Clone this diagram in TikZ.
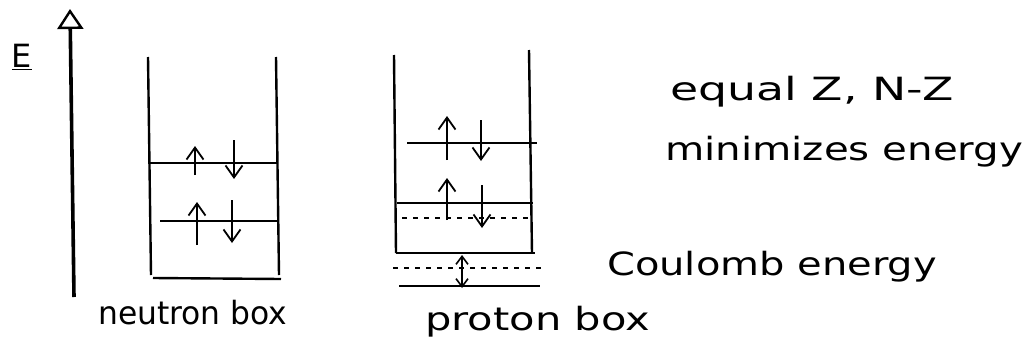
\documentclass[tikz,border=0pt]{standalone}
\usepackage{fontspec}
\setmainfont{DejaVu Sans}
\usetikzlibrary{arrows.meta}
\newcommand{\handtext}[2]{\scalebox{#1}[1]{#2}}
\begin{document}
\begin{tikzpicture}[x=1pt,y=-1pt,
  wall/.style={line width=2.4pt},
  level/.style={line width=1.6pt},
  spin/.style={line width=1.8pt,-{Straight Barb[length=12pt,width=17pt,line width=1.8pt]}},
  dashlevel/.style={line width=1.2pt,dash pattern=on 5pt off 6pt},
  hand/.style={font=\fontsize{32}{34}\selectfont,inner sep=0pt,anchor=base west}]
\useasboundingbox (0,0) rectangle (1026,351);
% energy axis
\coordinate (axb) at (74,297);
\coordinate (axt) at (70,9);
\draw[line width=3.6pt,-{Triangle[open,length=20pt,width=26pt,line width=2.4pt]}] (axb) -- (axt);
\node[font=\fontsize{32}{34}\selectfont,inner sep=0pt] (E) at (22,57) {\underline{E}};
% neutron box
\coordinate (nTL) at (148,57); \coordinate (nBL) at (151,275);
\coordinate (nTR) at (276,57); \coordinate (nBR) at (279,275);
\coordinate (nB1) at (153,278); \coordinate (nB2) at (281,279);
\draw[wall] (nTL) -- (nBL);
\draw[wall] (nTR) -- (nBR);
\draw[wall] (nB1) -- (nB2);
\coordinate (nL1a) at (148,163); \coordinate (nL1b) at (278,163);
\coordinate (nL2a) at (160,221); \coordinate (nL2b) at (279,221);
\draw[level] (nL1a) -- (nL1b);
\draw[level] (nL2a) -- (nL2b);
\coordinate (n1u0) at (195,175); \coordinate (n1u1) at (195,146);
\coordinate (n1d0) at (234,140); \coordinate (n1d1) at (234,179);
\coordinate (n2u0) at (197,245); \coordinate (n2u1) at (197,202);
\coordinate (n2d0) at (232,200); \coordinate (n2d1) at (232,243);
\draw[spin] (n1u0) -- (n1u1);
\draw[spin] (n1d0) -- (n1d1);
\draw[spin] (n2u0) -- (n2u1);
\draw[spin] (n2d0) -- (n2d1);
\node[hand] (nlab) at (98,324) {\handtext{0.98}{neutron box}};
% proton box
\coordinate (pTL) at (394,55); \coordinate (pBL) at (396,253);
\coordinate (pTR) at (529,50); \coordinate (pBR) at (532,253);
\coordinate (pB1) at (396,253); \coordinate (pB2) at (535,253);
\draw[wall] (pTL) -- (pBL);
\draw[wall] (pTR) -- (pBR);
\draw[wall] (pB1) -- (pB2);
\coordinate (pL1a) at (407,143); \coordinate (pL1b) at (537,143);
\coordinate (pL2a) at (397,203); \coordinate (pL2b) at (533,203);
\draw[level] (pL1a) -- (pL1b);
\draw[level] (pL2a) -- (pL2b);
\coordinate (pD1a) at (402,218); \coordinate (pD1b) at (530,218);
\draw[dashlevel] (pD1a) -- (pD1b);
\coordinate (p1u0) at (447,160); \coordinate (p1u1) at (447,116);
\coordinate (p1d0) at (481,120); \coordinate (p1d1) at (481,161);
\coordinate (p2u0) at (447,220); \coordinate (p2u1) at (447,178);
\coordinate (p2d0) at (482,185); \coordinate (p2d1) at (482,228);
\draw[spin] (p1u0) -- (p1u1);
\draw[spin] (p1d0) -- (p1d1);
\draw[spin] (p2u0) -- (p2u1);
\draw[spin] (p2d0) -- (p2d1);
% coulomb shift
\coordinate (pD2a) at (393,268); \coordinate (pD2b) at (542,268);
\draw[dashlevel] (pD2a) -- (pD2b);
\coordinate (pG1) at (399,286); \coordinate (pG2) at (540,286);
\draw[level] (pG1) -- (pG2);
\coordinate (cA) at (462,255); \coordinate (cB) at (462,288);
\draw[line width=1.6pt,{Straight Barb[length=8pt,width=12pt]}-{Straight Barb[length=8pt,width=12pt]}] (cA) -- (cB);
\node[hand] (plab) at (425,330) {\handtext{1.3}{proton box}};
% notes
\node[hand] (t1) at (670,100) {\handtext{1.43}{equal Z, N-Z}};
\node[hand] (t2) at (665,160) {\handtext{1.26}{minimizes energy}};
\node[hand] (t3) at (607,275) {\handtext{1.25}{Coulomb energy}};
\end{tikzpicture}
\end{document}
